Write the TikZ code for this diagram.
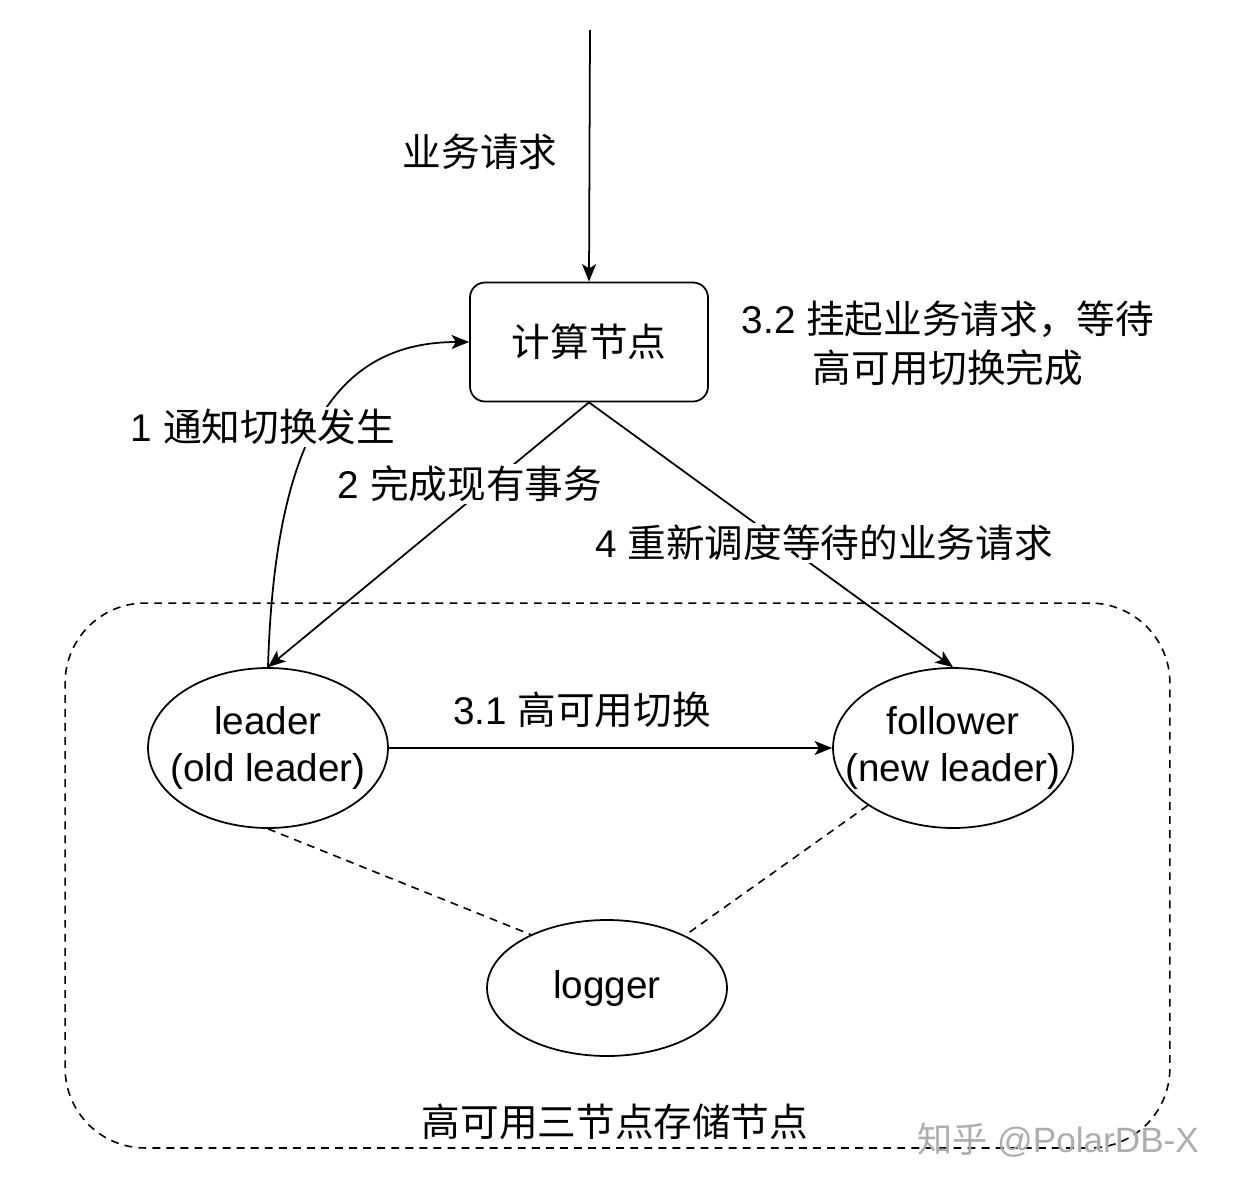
\documentclass[tikz,border=0pt]{standalone}
\usepackage{fontspec}
\setmainfont{Liberation Sans}
\newfontfamily\cjk{Noto Sans CJK SC}
\usetikzlibrary{arrows.meta,shapes.geometric}
\tikzset{
  x=0.02cm, y=-0.02cm,
  every node/.style={font=\fontsize{22}{26}\selectfont},
  line/.style={line width=1pt},
  arr/.style={line width=1pt, -{Stealth[length=10pt,width=8pt,inset=2.5pt]}},
  dsh/.style={line width=0.9pt, dash pattern=on 4.5pt off 3.5pt},
  ell/.style={ellipse, draw, line width=1pt, align=center, inner sep=0pt},
  lbl/.style={align=center, inner sep=1pt},
}
\newcommand{\zw}[1]{\makebox[0pt]{#1}}
\begin{document}
\begin{tikzpicture}
\useasboundingbox (0,0) rectangle (1234,1190);
% storage group
\node[draw, dsh, rounded corners=1.6cm, minimum width=22.1cm, minimum height=10.9cm, inner sep=0pt] (group) at (617.5,875.5) {};
\node[lbl] (grouplbl) at (615,1122) {\cjk 高可用三节点存储节点};
% nodes
\coordinate (src) at (590,30);
\node[draw, line width=1pt, rounded corners=0.3cm, minimum width=4.76cm, minimum height=2.38cm, inner sep=0pt] (compute) at (589,342) {\cjk 计算节点};
\node[ell, minimum width=4.8cm, minimum height=3.2cm] (leader) at (268,748) {\zw{leader}\\[1pt]\zw{(old leader)}};
\node[ell, minimum width=4.8cm, minimum height=3.2cm] (follower) at (953,748) {\zw{follower}\\[1pt]\zw{(new leader)}};
\node[ell, minimum width=4.8cm, minimum height=2.72cm] (logger) at (607,988) {\zw{logger}};
% connectors
\draw[arr] (src) -- (compute.north);
\draw[arr] (leader.north) .. controls (275,430) and (340,342) .. (compute.west);
\draw[arr] (compute.south) -- (leader.north);
\draw[arr] (compute.south) -- (follower.north);
\draw[arr] (leader.east) -- (follower.west);
\draw[dsh] (leader.south) -- (logger.145);
\draw[dsh] (follower.214) -- (logger.34);
% labels
\node[lbl] (l0) at (480,152) {\cjk 业务请求};
\node[lbl] (l32) at (948,343) {3.2 {\cjk 挂起业务请求，等待}\\[2pt]{\cjk 高可用切换完成}};
\node[lbl, fill=white] (l1) at (263,427) {1 {\cjk 通知切换发生}};
\node[lbl, fill=white] (l2) at (470,484) {2 {\cjk 完成现有事务}};
\node[lbl, fill=white] (l4) at (824,543) {4 {\cjk 重新调度等待的业务请求}};
\node[lbl] (l31) at (582,710) {3.1 {\cjk 高可用切换}};
% watermark
\node[lbl, text=black!32, font=\fontsize{20}{24}\selectfont] (wm) at (1058,1140) {{\cjk 知乎} @PolarDB-X};
\end{tikzpicture}
\end{document}
